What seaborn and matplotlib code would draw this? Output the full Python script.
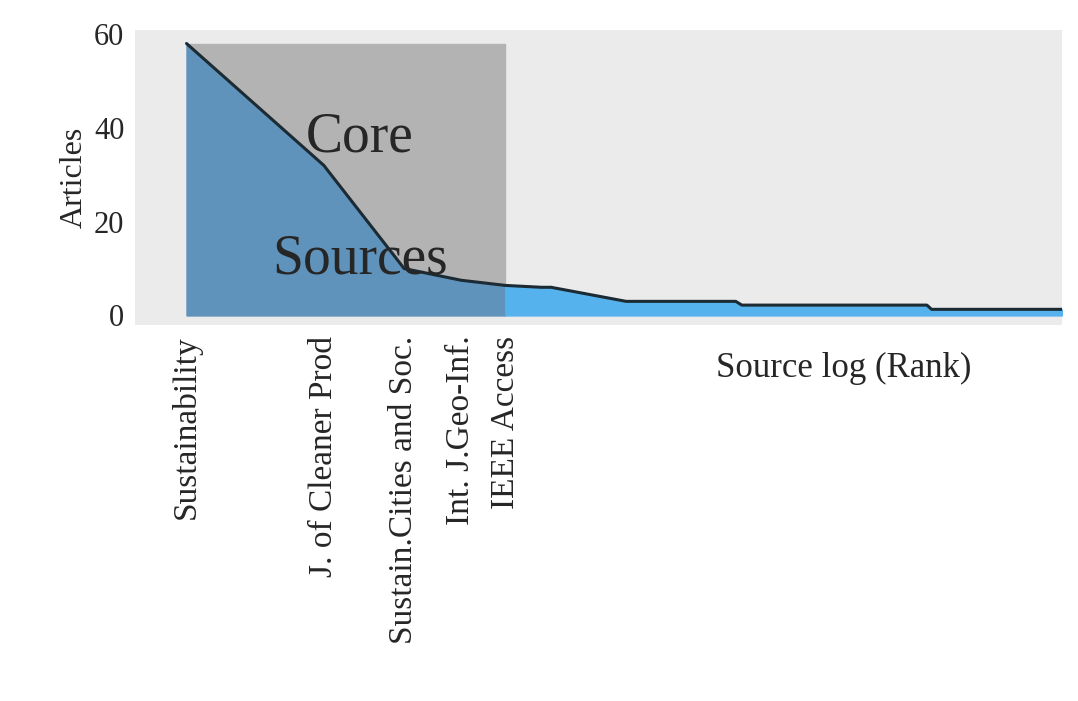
import matplotlib
matplotlib.use('Agg')
import matplotlib.pyplot as plt
import numpy as np
import seaborn as sns

sns.set_style('white')
plt.rcParams['font.family'] = ['Liberation Serif', 'DejaVu Serif']

ranks = [1, 2, 3, 4, 5, 6, 6.3, 9.2, 16, 16.5, 42, 43, 83]
articles = [58, 32, 10, 7.5, 6.4, 6, 6, 3, 3, 2.2, 2.2, 1.3, 1.3]
core_ranks = [1, 2, 3, 4, 5]
core_labels = ['Sustainability', 'J. of Cleaner Prod', 'Sustain.Cities and Soc.',
               'Int. J.Geo-Inf.', 'IEEE Access']
core_end = 5

fig = plt.figure(figsize=(10.78, 7.01), dpi=100)
ax = fig.add_axes([0.125, 0.536, 0.86, 0.421])
ax.set_facecolor('#ebebeb')
for s in ax.spines.values():
    s.set_visible(False)

x = np.array(ranks)
y = np.array(articles)
ax.axvspan(1, core_end, ymin=2.1 / 62.95, ymax=(58 + 2.1) / 62.95, color='#b3b3b3', zorder=1)
ax.fill_between(x, y, where=x <= core_end, color='#5f93bb', zorder=2)
ax.fill_between(x, y, where=x >= core_end, color='#55b2ec', zorder=2)
sns.lineplot(x=ranks, y=articles, ax=ax, color='#1c2a33', lw=2.2, zorder=3)

ax.set_xscale('log')
ax.set_xlim(0.77, 83)
ax.set_ylim(-2.1, 60.85)
ax.set_yticks([0, 20, 40, 60])
ax.tick_params(axis='y', labelsize=22, length=4, color='#888888')
ax.set_xticks(core_ranks)
ax.set_xticks([], minor=True)
ax.set_xticklabels(core_labels, rotation=90, fontsize=24)
ax.tick_params(axis='x', length=4, color='#888888')
ax.set_ylabel('Articles', fontsize=23)
ax.set_xlabel('')

ax.text(2.4, 38, 'Core', fontsize=40, ha='center', va='center', zorder=4)
ax.text(2.4, 12, 'Sources', fontsize=40, ha='center', va='center', zorder=4)
fig.text(0.783, 0.475, 'Source log (Rank)', fontsize=25, ha='center', va='center')

fig.savefig('out.png', dpi=100)
